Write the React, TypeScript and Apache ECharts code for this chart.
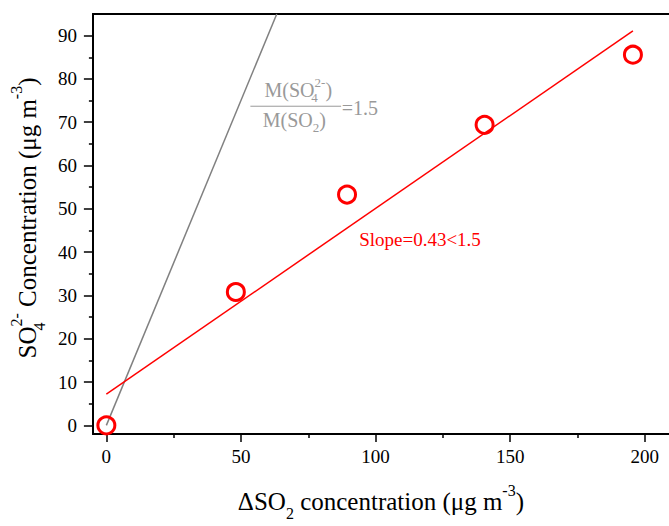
import React, { useEffect, useRef } from "react";
import * as echarts from "echarts";

// ---- data ----
const xTickValues = [0, 50, 100, 150, 200];
const xMinorTickValues = [25, 75, 125, 175];
const yTickValues = [0, 10, 20, 30, 40, 50, 60, 70, 80, 90];
const yMinorTickValues = [5, 15, 25, 35, 45, 55, 65, 75, 85];

const deltaSO2 = [0, 48.1, 89.4, 140.5, 195.6];
const so4Conc = [0, 30.8, 53.3, 69.4, 85.6];

const fitLineX = [0, 195.6];
const fitLineY = [7.2, 91.1];

const ratioLineX = [0, 63.3];
const ratioLineY = [0, 95];

const slopeLabel = "Slope=0.43<1.5";
const ratioValueLabel = "=1.5";

const X_MIN = -5;
const X_MAX = 209;
const Y_MIN = -2;
const Y_MAX = 95;

const FONT = "Liberation Serif, Times New Roman, serif";

export default function App() {
  const ref = useRef<HTMLDivElement>(null);

  useEffect(() => {
    document.body.style.margin = "0";
    if (!ref.current) return;
    const chart = echarts.init(ref.current, null, { renderer: "svg" });

    const axisLine = { show: true, onZero: false, lineStyle: { color: "#000", width: 2 } };
    const tickStyle = { color: "#000", width: 1.5 };

    const titleRich = {
      n: { fontSize: 25, fontFamily: FONT, color: "#000", lineHeight: 39, verticalAlign: "middle" },
      b: { fontSize: 16, fontFamily: FONT, color: "#000", lineHeight: 17, verticalAlign: "bottom" },
      b0: { fontSize: 16, fontFamily: FONT, color: "#000", lineHeight: 17, verticalAlign: "bottom", width: 0 },
      p: { fontSize: 16, fontFamily: FONT, color: "#000", lineHeight: 12, verticalAlign: "top" },
    };

    const tickLabelStyle = {
      show: true,
      fontSize: 19,
      fontFamily: FONT,
      fontWeight: "normal",
      color: "#000",
      formatter: (v: number) => "{t|" + v + "}",
      rich: { t: { fontSize: 19, fontFamily: FONT, fontWeight: "normal", color: "#000" } },
    };

    const xData = deltaSO2.map((x, i) => [x, so4Conc[i]]);
    const fitData = fitLineX.map((x, i) => [x, fitLineY[i]]);
    const ratioData = ratioLineX.map((x, i) => [x, ratioLineY[i]]);

    chart.setOption({
      animation: false,
      textStyle: { fontFamily: FONT },
      grid: { left: 91, right: 0, top: 14, bottom: 87, containLabel: false },
      xAxis: [
        {
          type: "value",
          min: X_MIN,
          max: X_MAX,
          position: "bottom",
          axisLine,
          axisTick: { show: true, length: 8, lineStyle: tickStyle, customValues: xTickValues },
          axisLabel: { ...tickLabelStyle, customValues: xTickValues, margin: 13 },
          splitLine: { show: false },
          name: "{n|ΔSO}{b|2}{n| concentration (μg m}{p|-3}{n|)}",
          nameLocation: "middle",
          nameGap: 48,
          nameTextStyle: { rich: titleRich, fontFamily: FONT, fontSize: 25, color: "#000" },
        },
        {
          type: "value",
          min: X_MIN,
          max: X_MAX,
          position: "bottom",
          axisLine: { show: false, onZero: false },
          axisTick: { show: true, length: 4, lineStyle: tickStyle, customValues: xMinorTickValues },
          axisLabel: { show: false },
          splitLine: { show: false },
        },
        {
          type: "value",
          min: X_MIN,
          max: X_MAX,
          position: "top",
          axisLine,
          axisTick: { show: false },
          axisLabel: { show: false },
          splitLine: { show: false },
        },
      ],
      yAxis: [
        {
          type: "value",
          min: Y_MIN,
          max: Y_MAX,
          position: "left",
          axisLine,
          axisTick: { show: true, length: 9, lineStyle: tickStyle, customValues: yTickValues },
          axisLabel: { ...tickLabelStyle, customValues: yTickValues, margin: 16 },
          splitLine: { show: false },
          name: "{n|SO}{b0|4}{p|2-}{n| Concentration (μg m}{p|-3}{n|)}",
          nameLocation: "middle",
          nameGap: 36,
          nameTextStyle: {
            rich: titleRich,
            fontFamily: FONT,
            fontSize: 25,
            color: "#000",
            padding: [0, 0, 0, 12],
          },
        },
        {
          type: "value",
          min: Y_MIN,
          max: Y_MAX,
          position: "left",
          axisLine: { show: false, onZero: false },
          axisTick: { show: true, length: 4, lineStyle: tickStyle, customValues: yMinorTickValues },
          axisLabel: { show: false },
          splitLine: { show: false },
        },
      ],
      series: [
        {
          type: "line",
          data: ratioData,
          xAxisIndex: 0,
          yAxisIndex: 0,
          symbol: "none",
          lineStyle: { color: "#808080", width: 1.5 },
          z: 2,
        },
        {
          type: "line",
          data: fitData,
          xAxisIndex: 0,
          yAxisIndex: 0,
          symbol: "none",
          lineStyle: { color: "#ff0000", width: 1.5 },
          z: 3,
        },
        {
          type: "scatter",
          data: xData,
          xAxisIndex: 0,
          yAxisIndex: 0,
          symbol: "circle",
          symbolSize: 17,
          itemStyle: { color: "rgba(0,0,0,0)", borderColor: "#ff0000", borderWidth: 3, opacity: 1 },
          z: 4,
        },
      ],
    });

    // annotations positioned through the axes' scales
    const px = (x: number, y: number) => chart.convertToPixel({ gridIndex: 0 }, [x, y]) as number[];
    const slopePos = px(93.9, 43.0);
    const numPos = px(71.3, 77.4);
    const denPos = px(69.8, 70.6);
    const barL = px(53.5, 73.7);
    const barR = px(87.2, 73.7);
    const eqPos = px(87.4, 73.3);

    const gray = "#999999";
    const fracRich = {
      g: { fontSize: 20, fontFamily: FONT, fill: gray, lineHeight: 28, verticalAlign: "middle" },
      gb: { fontSize: 13, fontFamily: FONT, fill: gray, lineHeight: 10, verticalAlign: "bottom" },
      gb0: { fontSize: 13, fontFamily: FONT, fill: gray, lineHeight: 8, verticalAlign: "bottom", width: 0 },
      gp: { fontSize: 13, fontFamily: FONT, fill: gray, lineHeight: 16, verticalAlign: "top" },
    };

    chart.setOption({
      graphic: [
        {
          type: "text",
          x: slopePos[0],
          y: slopePos[1],
          style: {
            text: slopeLabel,
            fontSize: 19,
            fontFamily: FONT,
            fill: "#ff0000",
            align: "left",
            verticalAlign: "middle",
          },
        },
        {
          type: "text",
          x: numPos[0],
          y: numPos[1],
          style: {
            text: "{g|M(SO}{gb0|4}{gp|2-}{g|)}",
            rich: fracRich,
            fontSize: 20,
            fontFamily: FONT,
            fill: gray,
            align: "center",
            verticalAlign: "middle",
          },
        },
        {
          type: "text",
          x: denPos[0],
          y: denPos[1],
          style: {
            text: "{g|M(SO}{gb|2}{g|)}",
            rich: fracRich,
            fontSize: 20,
            fontFamily: FONT,
            fill: gray,
            align: "center",
            verticalAlign: "middle",
          },
        },
        {
          type: "line",
          shape: { x1: barL[0], y1: barL[1], x2: barR[0], y2: barR[1] },
          style: { stroke: gray, lineWidth: 1 },
        },
        {
          type: "text",
          x: eqPos[0],
          y: eqPos[1],
          style: {
            text: ratioValueLabel,
            fontSize: 20,
            fontFamily: FONT,
            fill: gray,
            align: "left",
            verticalAlign: "middle",
          },
        },
      ],
    });

    return () => chart.dispose();
  }, []);

  return <div ref={ref} style={{ width: 669, height: 526 }} />;
}
